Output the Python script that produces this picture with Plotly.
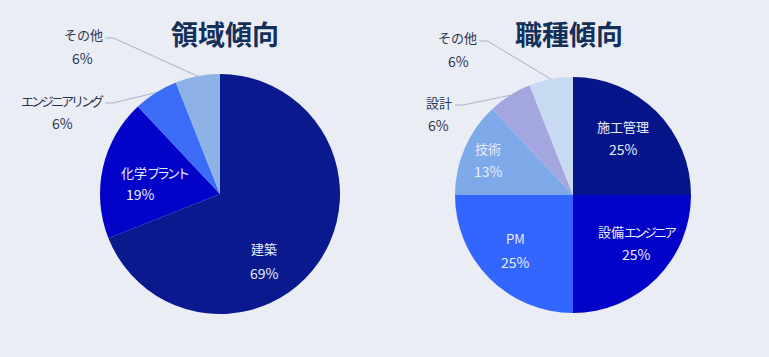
import math
import re
import plotly.graph_objects as go

W, H = 769, 357

# ---- data ----
left_title = "領域傾向"
left_labels = ["建築", "化学プラント", "エンジニアリング", "その他"]
left_values = [69, 19, 6, 6]
left_colors = ["#0a1a8e", "#0202c8", "#3a6cf8", "#8fb2e6"]

right_title = "職種傾向"
right_labels = ["施工管理", "設備エンジニア", "PM", "技術", "設計", "その他"]
right_values = [25, 25, 25, 13, 6, 6]
right_colors = ["#06168a", "#0202c8", "#3366ff", "#7eaaea", "#a4a6e0", "#c8daf2"]

# ---- layout (pixel geometry) ----
pies = [
    dict(title=left_title, labels=left_labels, values=left_values, colors=left_colors,
         cx=220, cy=194, r=120, title_x=225,
         pos=[((264, 248), (264, 273), False),
              ((154, 172), (140, 194), False),
              ((62, 100), (62, 123), True),
              ((83, 35), (82, 58), True)]),
    dict(title=right_title, labels=right_labels, values=right_values, colors=right_colors,
         cx=573, cy=195, r=118, title_x=569,
         pos=[((623, 126), (623, 149), False),
              ((637, 231), (636, 254), False),
              ((515, 239), (515, 262), False),
              ((488, 148), (488, 171), False),
              ((439, 102), (439, 125), True),
              ((457, 38), (458, 61), True)]),
]

FONT = "Noto Sans CJK JP, Meiryo, sans-serif"

def px(x):
    return x / W

def py(y):
    return 1 - y / H

KANA = re.compile(r"([\u30A0-\u30FF]+)")

def narrow_kana(s):
    # mimic the proportional (narrow) katakana of the original UI font
    return KANA.sub(r'<span style="letter-spacing:-3px">\1</span>', s)

def text_width(s):
    w = 0
    for ch in s:
        if KANA.match(ch):
            w += 10
        elif ord(ch) > 0x2000:
            w += 13
        else:
            w += 8
    return w

fig = go.Figure()
annotations = []
shapes = []

for p in pies:
    fig.add_trace(go.Pie(
        labels=p["labels"], values=p["values"],
        marker=dict(colors=p["colors"], line=dict(width=0)),
        sort=False, direction="clockwise", rotation=0,
        textinfo="none", hoverinfo="label+percent",
        showlegend=False,
        domain=dict(x=[px(p["cx"] - p["r"]), px(p["cx"] + p["r"])],
                    y=[py(p["cy"] + p["r"]), py(p["cy"] - p["r"])]),
    ))
    annotations.append(dict(
        x=px(p["title_x"]), y=py(33), xref="paper", yref="paper",
        text="<b>%s</b>" % p["title"], showarrow=False,
        font=dict(family=FONT, size=27, color="#14305a"),
        xanchor="center", yanchor="middle"))
    total = sum(p["values"])
    cum = 0
    for lab, val, (npos, ppos, outside) in zip(p["labels"], p["values"], p["pos"]):
        pct = round(100 * val / total)
        col = "#2a3552" if outside else "#e8eefa"
        for (x, y), t, sz in ((npos, narrow_kana(lab), 13), (ppos, "%d%%" % pct, 14)):
            annotations.append(dict(
                x=px(x), y=py(y), xref="paper", yref="paper", text=t,
                showarrow=False, font=dict(family=FONT, size=sz, color=col),
                xanchor="center", yanchor="middle"))
        if outside:
            mid = (cum + val / 2) / total * 2 * math.pi
            ex = p["cx"] + p["r"] * math.sin(mid)
            ey = p["cy"] - p["r"] * math.cos(mid)
            nx, ny = npos
            sx = nx + text_width(lab) / 2 + 3
            shapes.append(dict(
                type="path", xref="paper", yref="paper",
                path="M %f %f L %f %f L %f %f" % (px(sx), py(ny + 3), px(sx + 8), py(ny + 3), px(ex), py(ey)),
                line=dict(color="#a9b0cc", width=1)))
        cum += val

fig.update_layout(
    width=W, height=H,
    margin=dict(l=0, r=0, t=0, b=0),
    paper_bgcolor="#eaeef4", plot_bgcolor="#eaeef4",
    annotations=annotations, shapes=shapes,
)

fig.write_html("out.html", config={"displayModeBar": False})

# remove the browser's default body margin so the figure fills the window
with open("out.html", encoding="utf-8") as f:
    html = f.read()
html = html.replace("<body>", '<body style="margin:0;background:#eaeef4">', 1)
with open("out.html", "w", encoding="utf-8") as f:
    f.write(html)
